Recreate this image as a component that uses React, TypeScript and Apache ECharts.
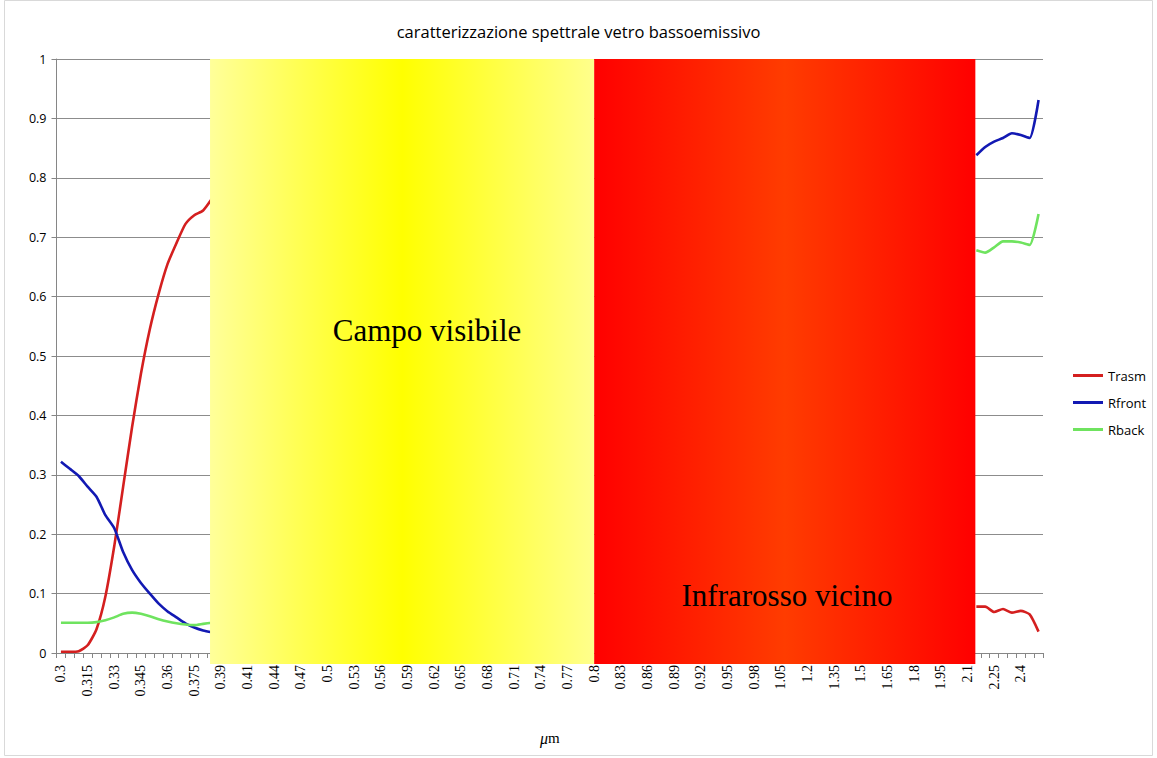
import React, { useEffect, useRef } from "react";
import * as echarts from "echarts";

const categories = [
  "0.3", "0.305", "0.31", "0.315", "0.32", "0.325", "0.33", "0.335", "0.34", "0.345",
  "0.35", "0.355", "0.36", "0.365", "0.37", "0.375", "0.38", "0.385", "0.39", "0.395",
  "0.4", "0.41", "0.42", "0.43", "0.44", "0.45", "0.46", "0.47", "0.48", "0.49",
  "0.5", "0.51", "0.52", "0.53", "0.54", "0.55", "0.56", "0.57", "0.58", "0.59",
  "0.6", "0.61", "0.62", "0.63", "0.64", "0.65", "0.66", "0.67", "0.68", "0.69",
  "0.7", "0.71", "0.72", "0.73", "0.74", "0.75", "0.76", "0.77", "0.78", "0.79",
  "0.8", "0.81", "0.82", "0.83", "0.84", "0.85", "0.86", "0.87", "0.88", "0.89",
  "0.9", "0.91", "0.92", "0.93", "0.94", "0.95", "0.96", "0.97", "0.98", "0.99",
  "1", "1.05", "1.1", "1.15", "1.2", "1.25", "1.3", "1.35", "1.4", "1.45",
  "1.5", "1.55", "1.6", "1.65", "1.7", "1.75", "1.8", "1.85", "1.9", "1.95",
  "2", "2.05", "2.1", "2.15", "2.2", "2.25", "2.3", "2.35", "2.4", "2.45", "2.5",
];

// visible values, UV part (0.3 .. 0.385)
const leftCats = ["0.3", "0.305", "0.31", "0.315", "0.32", "0.325", "0.33", "0.335", "0.34", "0.345",
  "0.35", "0.355", "0.36", "0.365", "0.37", "0.375", "0.38", "0.385"];
const trasmLeft = [0.002, 0.002, 0.003, 0.013, 0.04, 0.095, 0.18, 0.28, 0.38, 0.47,
  0.545, 0.605, 0.655, 0.69, 0.722, 0.737, 0.745, 0.765];
const rfrontLeft = [0.322, 0.31, 0.298, 0.28, 0.263, 0.232, 0.21, 0.17, 0.14, 0.118,
  0.1, 0.083, 0.07, 0.06, 0.05, 0.043, 0.038, 0.035];
const rbackLeft = [0.051, 0.051, 0.051, 0.051, 0.052, 0.055, 0.06, 0.066, 0.068, 0.066,
  0.062, 0.057, 0.053, 0.05, 0.048, 0.047, 0.049, 0.051];

// visible values, far IR part (2.15 .. 2.5)
const rightCats = ["2.15", "2.2", "2.25", "2.3", "2.35", "2.4", "2.45", "2.5"];
const trasmRight = [0.078, 0.078, 0.069, 0.074, 0.068, 0.071, 0.065, 0.036];
const rfrontRight = [0.838, 0.852, 0.861, 0.867, 0.875, 0.872, 0.867, 0.931];
const rbackRight = [0.678, 0.674, 0.683, 0.693, 0.693, 0.691, 0.687, 0.739];

const yTicks = [0, 0.1, 0.2, 0.3, 0.4, 0.5, 0.6, 0.7, 0.8, 0.9, 1];

const bands = [
  { from: "0.385", to: "0.8", label: "Campo visibile" },
  { from: "0.8", to: "2.15", label: "Infrarosso vicino" },
];

function buildSeries(left: number[], right: number[]) {
  const map: Record<string, number> = {};
  leftCats.forEach((c, i) => (map[c] = left[i]));
  rightCats.forEach((c, i) => (map[c] = right[i]));
  return categories.map((c) => (c in map ? map[c] : null));
}

export default function App() {
  const ref = useRef<HTMLDivElement>(null);
  useEffect(() => {
    if (!ref.current) return;
    const chart = echarts.init(ref.current, null, { renderer: "svg" });
    const lineStyle = (color: string) => ({ color, width: 2.6 });
    const option: any = {
      animation: false,
      backgroundColor: "#ffffff",
      title: {
        text: "caratterizzazione spettrale vetro bassoemissivo",
        left: "center",
        top: 18,
        textStyle: { fontFamily: "Open Sans", fontSize: 16.5, fontWeight: "normal", color: "#000" },
      },
      legend: {
        orient: "vertical",
        left: 1068,
        top: 364,
        icon: "rect",
        itemWidth: 30,
        itemHeight: 3,
        itemGap: 14,
        textStyle: { fontFamily: "Open Sans", fontSize: 13, color: "#000" },
        data: ["Trasm", "Rfront", "Rback"],
      },
      grid: { left: 56.5, right: 114, top: 59, bottom: 105, containLabel: false },
      xAxis: {
        type: "category",
        data: categories,
        boundaryGap: true,
        name: "{mu|μ}m",
        nameLocation: "middle",
        nameGap: 77,
        nameTextStyle: {
          fontFamily: "Liberation Serif",
          fontSize: 15,
          color: "#000",
          rich: { mu: { fontFamily: "Liberation Serif", fontStyle: "italic", fontSize: 16, color: "#000" } },
        },
        axisLine: { lineStyle: { color: "#868686", width: 1 } },
        axisTick: { show: true, interval: 0, length: 5, lineStyle: { color: "#868686" } },
        axisLabel: {
          interval: 2,
          rotate: 90,
          margin: 12,
          fontFamily: "Liberation Serif",
          fontSize: 14,
          color: "#000",
        },
        splitLine: { show: false },
      },
      yAxis: {
        type: "value",
        min: 0,
        max: 1,
        interval: 0.1,
        axisLine: { show: true, lineStyle: { color: "#868686" } },
        axisTick: { show: true, length: 5, lineStyle: { color: "#868686" } },
        axisLabel: {
          margin: 10,
          fontFamily: "Open Sans",
          fontSize: 12.5,
          color: "#000",
          formatter: (v: number) => String(Math.round(v * 10) / 10),
        },
        splitLine: { lineStyle: { color: "#8c8c8c", width: 1 } },
      },
      series: [
        { name: "Trasm", type: "line", data: buildSeries(trasmLeft, trasmRight), showSymbol: false, smooth: 0.2, lineStyle: lineStyle("#d41f1f"), itemStyle: { color: "#d41f1f" }, connectNulls: false },
        { name: "Rfront", type: "line", data: buildSeries(rfrontLeft, rfrontRight), showSymbol: false, smooth: 0.2, lineStyle: lineStyle("#1219b3"), itemStyle: { color: "#1219b3" }, connectNulls: false },
        { name: "Rback", type: "line", data: buildSeries(rbackLeft, rbackRight), showSymbol: false, smooth: 0.2, lineStyle: lineStyle("#6fe35f"), itemStyle: { color: "#6fe35f" }, connectNulls: false },
      ],
    };
    chart.setOption(option);

    const px = (c: string) => chart.convertToPixel({ xAxisIndex: 0 } as any, c) as number;
    const py = (v: number) => chart.convertToPixel({ yAxisIndex: 0 } as any, v) as number;
    const yTop = py(yTicks[yTicks.length - 1]);
    const yBot = py(yTicks[0]) + 11;
    const xA = px(bands[0].from) - 2;
    const xB = px(bands[0].to);
    const xC = px(bands[1].to) - 1;

    chart.setOption({
      graphic: [
        {
          type: "rect",
          z: 100,
          shape: { x: 4.5, y: 0.5, width: 1148, height: 755 },
          style: { fill: "none", stroke: "#d9d9d9", lineWidth: 1 },
          silent: true,
        },
        {
          type: "rect",
          z: 100,
          shape: { x: xA, y: yTop, width: xB - xA, height: yBot - yTop },
          style: {
            fill: new echarts.graphic.LinearGradient(0, 0, 1, 0, [
              { offset: 0, color: "#ffff9a" },
              { offset: 0.5, color: "#ffff00" },
              { offset: 1, color: "#ffff8c" },
            ]),
          },
          silent: true,
        },
        {
          type: "rect",
          z: 100,
          shape: { x: xB, y: yTop, width: xC - xB, height: yBot - yTop },
          style: {
            fill: new echarts.graphic.LinearGradient(0, 0, 1, 0, [
              { offset: 0, color: "#ff0000" },
              { offset: 0.5, color: "#ff3c00" },
              { offset: 1, color: "#ff0000" },
            ]),
          },
          silent: true,
        },
        {
          type: "text",
          z: 101,
          x: 427,
          y: 330,
          style: {
            text: bands[0].label,
            fill: "#000",
            font: "31px 'Liberation Serif'",
            align: "center",
            verticalAlign: "middle",
          },
          silent: true,
        },
        {
          type: "text",
          z: 101,
          x: 787,
          y: 595,
          style: {
            text: bands[1].label,
            fill: "#000",
            font: "31px 'Liberation Serif'",
            align: "center",
            verticalAlign: "middle",
          },
          silent: true,
        },
      ],
    });

    return () => chart.dispose();
  }, []);
  return (
    <div
      ref={ref}
      style={{ position: "fixed", left: 0, top: 0, width: 1157, height: 758 }}
    />
  );
}
